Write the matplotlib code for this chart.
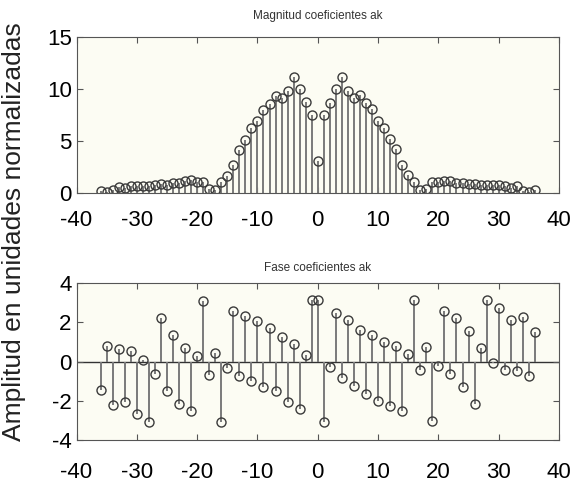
# Stem plots of Fourier coefficient magnitude and phase

import matplotlib.pyplot as plt
import numpy as np

plt.rcParams["font.family"] = ["Liberation Sans", "DejaVu Sans"]
plt.rcParams["axes.unicode_minus"] = False

# harmonic index
k = np.arange(-36, 37)

# magnitude of a_k
magnitud = [0.2, 0.1, 0.3, 0.6, 0.5, 0.7, 0.7, 0.7, 0.7, 0.8, 0.85, 0.8,
            0.95, 0.95, 1.2, 1.25, 1.1, 1.05, 0.4, 0.3, 1.06, 1.67, 2.66,
            4.17, 5.13, 6.25, 6.9, 8.0, 8.6, 9.36, 9.13, 9.78, 11.15, 10.03,
            8.72, 7.53, 3.04,
            7.5, 8.7, 10.0, 11.15, 9.8, 9.1, 9.4, 8.65, 8.1, 6.9, 6.25, 5.2,
            4.2, 2.7, 1.7, 1.1, 0.3, 0.4, 1.05, 1.05, 1.2, 1.2, 0.95, 0.95,
            0.87, 0.87, 0.75, 0.75, 0.8, 0.8, 0.65, 0.5, 0.65, 0.15, 0.1, 0.25]

# phase of a_k
fase = [-1.44, 0.79, -2.24, 0.62, -2.07, 0.53, -2.67, 0.10, -3.09, -0.63,
        2.24, -1.49, 1.35, -2.17, 0.70, -2.51, 0.27, 3.09, -0.67, 0.44,
        -3.09, -0.33, 2.55, -0.75, 2.32, -0.97, 2.07, -1.30, 1.73, -1.52,
        1.26, -2.07, 0.91, -2.41, 0.32, 3.14, 3.14,
        -3.09, -0.27, 2.46, -0.84, 2.12, -1.26, 1.59, -1.66, 1.33, -2.0,
        1.01, -2.29, 0.79, -2.51, 0.39, 3.14, -0.41, 0.74, -3.03, -0.24,
        2.55, -0.63, 2.21, -1.32, 1.56, -2.17, 0.67, 3.14, -0.07, 2.72,
        -0.44, 2.12, -0.50, 2.27, -0.75, 1.50]

xticks = [-40, -30, -20, -10, 0, 10, 20, 30, 40]

fig = plt.figure(figsize=(5.85, 4.99), dpi=100)
ax1 = fig.add_axes([0.1308, 0.6132, 0.8248, 0.3126])
ax2 = fig.add_axes([0.1308, 0.1182, 0.8248, 0.3146])

stem_col = "#7a7a7a"
mk_col = "#3a3a3a"


def draw_stem(ax, y):
    markers, stems, base = ax.stem(k, y, linefmt="-", markerfmt="o", basefmt=" ")
    plt.setp(stems, color=stem_col, linewidth=1.4)
    plt.setp(markers, markerfacecolor="none", markeredgecolor=mk_col,
             markersize=6.5, markeredgewidth=1.0)


draw_stem(ax1, magnitud)
draw_stem(ax2, fase)
ax2.axhline(0, color="#333333", linewidth=1.0, zorder=1)

for ax in (ax1, ax2):
    ax.set_facecolor("#fcfcf3")
    ax.set_xlim(-40, 40)
    ax.set_xticks(xticks)
    ax.tick_params(direction="in", top=True, right=True, length=4,
                   labelsize=16, color="#555555")
    for s in ax.spines.values():
        s.set_color("#555555")

ax1.set_ylim(0, 15)
ax1.set_yticks([0, 5, 10, 15])
ax1.tick_params(axis="x", pad=12)
ax1.set_title("Magnitud coeficientes ak", fontsize=8.5, color="#333333", pad=13)

ax2.set_ylim(-4, 4)
ax2.set_yticks([-4, -2, 0, 2, 4])
ax2.tick_params(axis="x", pad=16)
ax2.set_title("Fase coeficientes ak", fontsize=8.5, color="#333333", pad=9)

fig.text(0.024, 0.535, "Amplitud en unidades normalizadas", rotation=90,
         ha="center", va="center", fontsize=19, color="#222222")

fig.savefig("out.png", dpi=100)
